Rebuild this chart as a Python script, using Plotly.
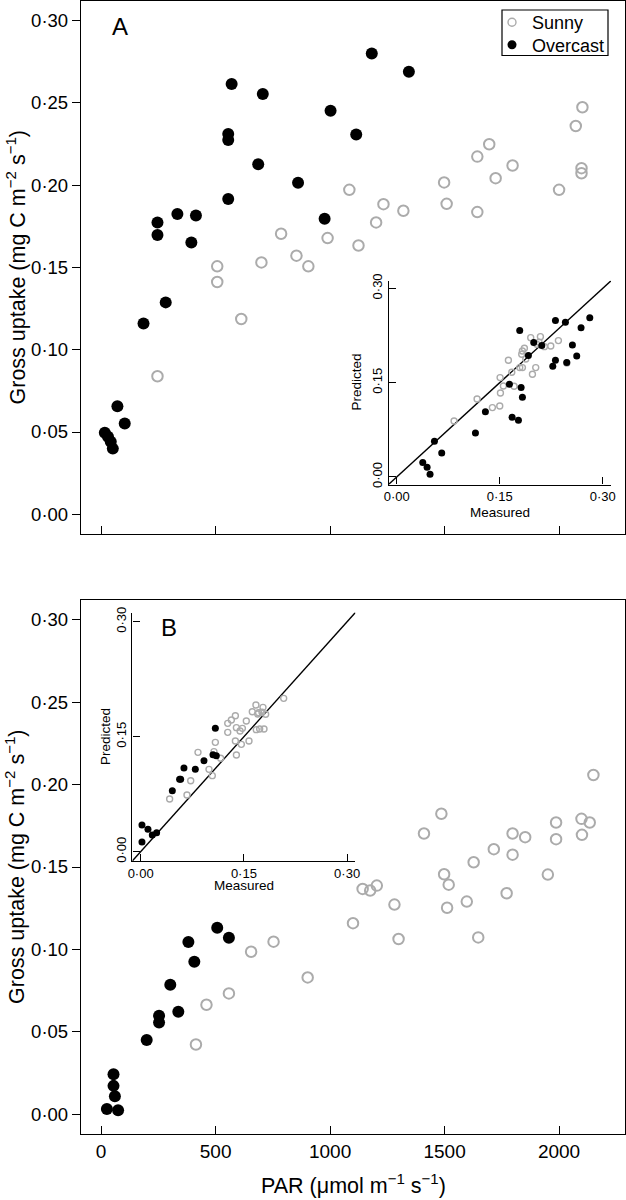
import plotly.graph_objects as go

W, H = 626, 1200
FONT = "Liberation Sans, Arial, Helvetica, sans-serif"

# ---------------- Panel A (main) ----------------
a_overcast_par = [16, 30, 42, 51, 71, 103, 185, 246, 246, 282, 333, 394, 414, 555, 555, 555,
                  570, 686, 706, 860, 976, 1002, 1114, 1182, 1344]
a_overcast_gu = [0.0496, 0.0471, 0.0441, 0.0399, 0.0657, 0.0552, 0.1159, 0.1774, 0.1697, 0.1288,
                 0.1825, 0.1652, 0.1816, 0.2312, 0.2275, 0.1917, 0.2615, 0.2128, 0.2555, 0.2015,
                 0.1796, 0.2453, 0.2308, 0.2801, 0.2690]
a_sunny_par = [246, 507, 507, 612, 700, 786, 853, 905, 989, 1084, 1124, 1201, 1233, 1320, 1498,
               1509, 1643, 1643, 1695, 1723, 1797, 2000, 2073, 2102, 2098, 2098]
a_sunny_gu = [0.0839, 0.1507, 0.1412, 0.1187, 0.1531, 0.1705, 0.1572, 0.1507, 0.1679, 0.1972,
              0.1634, 0.1774, 0.1885, 0.1845, 0.2017, 0.1887, 0.2174, 0.1837, 0.2249, 0.2043,
              0.2120, 0.1972, 0.2360, 0.2474, 0.2104, 0.2073]

# ---------------- Panel A (inset: measured vs predicted) ----------------
ai_overcast_meas = [0.0379, 0.0442, 0.0485, 0.0549, 0.0655, 0.1146, 0.1291, 0.1680, 0.1772, 0.1641,
                    0.1811, 0.1830, 0.1791, 0.1917, 0.1995, 0.2112, 0.2272, 0.2311, 0.2311, 0.2456,
                    0.2558, 0.2621, 0.2684, 0.2811, 0.2476]
ai_overcast_pred = [0.0228, 0.0154, 0.0042, 0.0567, 0.0382, 0.0700, 0.1039, 0.0949, 0.0901, 0.1474,
                    0.1421, 0.1267, 0.2328, 0.1930, 0.2137, 0.2089, 0.1760, 0.1856, 0.2487, 0.2460,
                    0.2100, 0.1925, 0.2375, 0.2534, 0.1819]
ai_sunny_meas = [0.0835, 0.1170, 0.1393, 0.1500, 0.1510, 0.1505, 0.1553, 0.1709, 0.1675, 0.1626,
                 0.1791, 0.1830, 0.1879, 0.1830, 0.1859, 0.1976, 0.2024, 0.1951, 0.2092, 0.2073,
                 0.2243, 0.2354, 0.2476, 0.2150, 0.1820, 0.2039]
ai_sunny_pred = [0.0891, 0.1241, 0.1103, 0.1129, 0.1336, 0.1580, 0.1447, 0.1442, 0.1665, 0.1856,
                 0.1739, 0.1739, 0.1877, 0.2004, 0.2047, 0.1633, 0.1739, 0.2216, 0.2232, 0.2142,
                 0.2084, 0.2169, 0.1813, 0.2073, 0.1951, 0.2110]

# ---------------- Panel B (main) ----------------
b_overcast_par = [25, 54, 54, 60, 74, 199, 253, 253, 302, 337, 381, 407, 507, 558]
b_overcast_gu = [0.0032, 0.0243, 0.0172, 0.0109, 0.0024, 0.0450, 0.0598, 0.0557, 0.0786, 0.0622,
                 0.1045, 0.0925, 0.1132, 0.1071]
b_sunny_par = [414, 460, 558, 655, 753, 902, 1100, 1142, 1175, 1204, 1281, 1299, 1410, 1486, 1498,
               1511, 1518, 1597, 1627, 1647, 1715, 1771, 1797, 1797, 1852, 1951, 1987, 1987, 2098,
               2100, 2134, 2150]
b_sunny_gu = [0.0423, 0.0664, 0.0733, 0.0986, 0.1047, 0.0830, 0.1159, 0.1367, 0.1357, 0.1387,
              0.1272, 0.1063, 0.1703, 0.1823, 0.1456, 0.1253, 0.1393, 0.1290, 0.1529, 0.1073,
              0.1608, 0.1341, 0.1703, 0.1575, 0.1681, 0.1454, 0.1770, 0.1669, 0.1792, 0.1695,
              0.1770, 0.2058]

# ---------------- Panel B (inset) ----------------
bi_overcast_meas = [0.0019, 0.0106, 0.0019, 0.0169, 0.0232, 0.0460, 0.0566, 0.0581, 0.0629, 0.0794,
                    0.0920, 0.1051, 0.1085, 0.1099]
bi_overcast_pred = [0.0348, 0.0292, 0.0127, 0.0218, 0.0248, 0.0796, 0.0944, 0.0944, 0.1092, 0.1074,
                    0.1187, 0.1266, 0.1609, 0.1252]
bi_sunny_meas = [0.0421, 0.0673, 0.0727, 0.0833, 0.0993, 0.1041, 0.1085, 0.1065, 0.1162, 0.1265,
                 0.1265, 0.1318, 0.1376, 0.1376, 0.1391, 0.1391, 0.1444, 0.1463, 0.1535, 0.1574,
                 0.1622, 0.1675, 0.1700, 0.1680, 0.1729, 0.1777, 0.1792, 0.1816, 0.1763, 0.2078,
                 0.1478, 0.1713]
bi_sunny_pred = [0.0687, 0.0740, 0.0926, 0.1296, 0.1074, 0.0992, 0.1426, 0.1305, 0.1218, 0.1557,
                 0.1674, 0.1718, 0.1774, 0.1444, 0.1261, 0.1618, 0.1574, 0.1400, 0.1705, 0.1444,
                 0.1826, 0.1913, 0.1796, 0.1592, 0.1600, 0.1883, 0.1600, 0.1792, 0.1818, 0.2000,
                 0.1609, 0.1813]

# ---------------- Axes setup ----------------
gu_ticks = [0.0, 0.05, 0.10, 0.15, 0.20, 0.25, 0.30]
gu_ticktext = ["0·00", "0·05", "0·10", "0·15", "0·20", "0·25", "0·30"]
par_ticks = [0, 500, 1000, 1500, 2000]
par_ticktext = ["0", "500", "1000", "1500", "2000"]
inset_ticks = [0.0, 0.15, 0.30]
inset_ticktext = ["0·00", "0·15", "0·30"]

PAR_RANGE = [-88, 2288]
GU_RANGE = [-0.012, 0.312]
INSET_RANGE = [-0.012, 0.312]


def px_x(p):
    return p / W


def px_y(p):
    return 1 - p / H


SUN_COL = "#ababab"
OVC_COL = "black"

fig = go.Figure()

main_sun = dict(symbol="circle-open", size=10.5, color=SUN_COL, line=dict(color=SUN_COL, width=2))
main_ovc = dict(symbol="circle", size=12, color=OVC_COL)
ins_sun = dict(symbol="circle-open", size=6, color=SUN_COL, line=dict(color=SUN_COL, width=1.4))
ins_ovc = dict(symbol="circle", size=7, color=OVC_COL)

# Panel A
fig.add_trace(go.Scatter(x=a_sunny_par, y=a_sunny_gu, mode="markers", marker=main_sun,
                         xaxis="x", yaxis="y", showlegend=False))
fig.add_trace(go.Scatter(x=a_overcast_par, y=a_overcast_gu, mode="markers", marker=main_ovc,
                         xaxis="x", yaxis="y", showlegend=False))
# Panel B
fig.add_trace(go.Scatter(x=b_sunny_par, y=b_sunny_gu, mode="markers", marker=main_sun,
                         xaxis="x2", yaxis="y2", showlegend=False))
fig.add_trace(go.Scatter(x=b_overcast_par, y=b_overcast_gu, mode="markers", marker=main_ovc,
                         xaxis="x2", yaxis="y2", showlegend=False))
# Inset A
fig.add_trace(go.Scatter(x=INSET_RANGE, y=INSET_RANGE, mode="lines",
                         line=dict(color="black", width=1.4), xaxis="x3", yaxis="y3",
                         showlegend=False, hoverinfo="skip"))
fig.add_trace(go.Scatter(x=ai_sunny_meas, y=ai_sunny_pred, mode="markers", marker=ins_sun,
                         xaxis="x3", yaxis="y3", showlegend=False))
fig.add_trace(go.Scatter(x=ai_overcast_meas, y=ai_overcast_pred, mode="markers", marker=ins_ovc,
                         xaxis="x3", yaxis="y3", showlegend=False))
# Inset B
fig.add_trace(go.Scatter(x=INSET_RANGE, y=INSET_RANGE, mode="lines",
                         line=dict(color="black", width=1.4), xaxis="x4", yaxis="y4",
                         showlegend=False, hoverinfo="skip"))
fig.add_trace(go.Scatter(x=bi_sunny_meas, y=bi_sunny_pred, mode="markers", marker=ins_sun,
                         xaxis="x4", yaxis="y4", showlegend=False))
fig.add_trace(go.Scatter(x=bi_overcast_meas, y=bi_overcast_pred, mode="markers", marker=ins_ovc,
                         xaxis="x4", yaxis="y4", showlegend=False))
# Legend entries (two single-item legends to match the tight line spacing)
fig.add_trace(go.Scatter(x=[None], y=[None], mode="markers", name="Sunny", legend="legend",
                         marker=dict(symbol="circle-open", size=8, color=SUN_COL,
                                     line=dict(color=SUN_COL, width=1.4)),
                         xaxis="x", yaxis="y"))
fig.add_trace(go.Scatter(x=[None], y=[None], mode="markers", name="Overcast", legend="legend2",
                         marker=dict(symbol="circle", size=9, color=OVC_COL),
                         xaxis="x", yaxis="y"))

main_x_common = dict(range=PAR_RANGE, tickvals=par_ticks, ticktext=par_ticktext,
                     ticks="inside", ticklen=8, tickwidth=1.3, tickcolor="black",
                     showline=True, linecolor="black", linewidth=1.3, mirror=True,
                     showgrid=False, zeroline=False, automargin=False,
                     tickfont=dict(family=FONT, size=19, color="black"))
main_y_common = dict(range=GU_RANGE, tickvals=gu_ticks, ticktext=gu_ticktext,
                     ticks="outside", ticklen=8, tickwidth=1.3, tickcolor="black",
                     showline=True, linecolor="black", linewidth=1.3, mirror=True,
                     showgrid=False, zeroline=False, automargin=False,
                     tickfont=dict(family=FONT, size=18.5, color="black"))
inset_common = dict(range=INSET_RANGE, tickvals=inset_ticks, ticktext=inset_ticktext,
                    ticks="inside", ticklen=7, tickwidth=1.2, tickcolor="black",
                    showline=True, linecolor="black", linewidth=1.3, mirror=False,
                    showgrid=False, zeroline=False, automargin=False,
                    tickfont=dict(family=FONT, size=13, color="black"))

legend_common = dict(x=px_x(492), xanchor="left", yanchor="top",
                     bgcolor="rgba(0,0,0,0)", borderwidth=0,
                     font=dict(family=FONT, size=18, color="black"),
                     itemwidth=30, tracegroupgap=0)

fig.update_layout(
    template="none",
    width=W, height=H,
    autosize=False,
    margin=dict(l=0, r=0, t=0, b=0, pad=0, autoexpand=False),
    paper_bgcolor="white", plot_bgcolor="white",
    font=dict(family=FONT, color="black"),
    xaxis=dict(domain=[px_x(81), px_x(625)], anchor="y", showticklabels=False, **main_x_common),
    yaxis=dict(domain=[px_y(534), px_y(1)], anchor="x", **main_y_common),
    xaxis2=dict(domain=[px_x(81), px_x(625)], anchor="y2", showticklabels=True, **main_x_common),
    yaxis2=dict(domain=[px_y(1134), px_y(600)], anchor="x2", **main_y_common),
    xaxis3=dict(domain=[px_x(388.5), px_x(611)], anchor="y3", **inset_common),
    yaxis3=dict(domain=[px_y(484.5), px_y(280.8)], anchor="x3", tickangle=-90, **inset_common),
    xaxis4=dict(domain=[px_x(132.4), px_x(355.4)], anchor="y4", **inset_common),
    yaxis4=dict(domain=[px_y(860.9), px_y(612.5)], anchor="x4", tickangle=-90, **inset_common),
    legend=dict(y=px_y(4), **legend_common),
    legend2=dict(y=px_y(26.5), **legend_common),
    showlegend=True,
)

# legend frame
fig.add_shape(type="rect", xref="paper", yref="paper",
              x0=px_x(502), x1=px_x(608), y0=px_y(55.5), y1=px_y(10),
              line=dict(color="black", width=1.2), fillcolor="rgba(0,0,0,0)")

ann = []
# axis titles
ann.append(dict(text="Gross uptake (mg C m<sup>−2</sup> s<sup>−1</sup>)", x=px_x(15), y=px_y(267.5),
                textangle=-90, font=dict(size=21.5)))
ann.append(dict(text="Gross uptake (mg C m<sup>−2</sup> s<sup>−1</sup>)", x=px_x(15), y=px_y(867),
                textangle=-90, font=dict(size=21.5)))
ann.append(dict(text="PAR (μmol m<sup>−1</sup> s<sup>−1</sup>)", x=px_x(353), y=px_y(1184),
                font=dict(size=21.5)))
# panel letters
ann.append(dict(text="A", x=px_x(120), y=px_y(26.5), font=dict(size=24)))
ann.append(dict(text="B", x=px_x(168.5), y=px_y(627), font=dict(size=24)))
# inset titles
ann.append(dict(text="Predicted", x=px_x(357), y=px_y(382.6), textangle=-90, font=dict(size=13.5)))
ann.append(dict(text="Measured", x=px_x(500), y=px_y(512), font=dict(size=13.5)))
ann.append(dict(text="Predicted", x=px_x(105), y=px_y(737), textangle=-90, font=dict(size=13.5)))
ann.append(dict(text="Measured", x=px_x(244), y=px_y(885), font=dict(size=13.5)))

for a in ann:
    a.update(xref="paper", yref="paper", xanchor="center", yanchor="middle", showarrow=False)
    a["font"] = dict(family=FONT, color="black", **a["font"])
fig.update_layout(annotations=ann)

fig.write_html("out.html", config={"displayModeBar": False},
               post_script="document.body.style.margin='0px';document.body.style.padding='0px';")
